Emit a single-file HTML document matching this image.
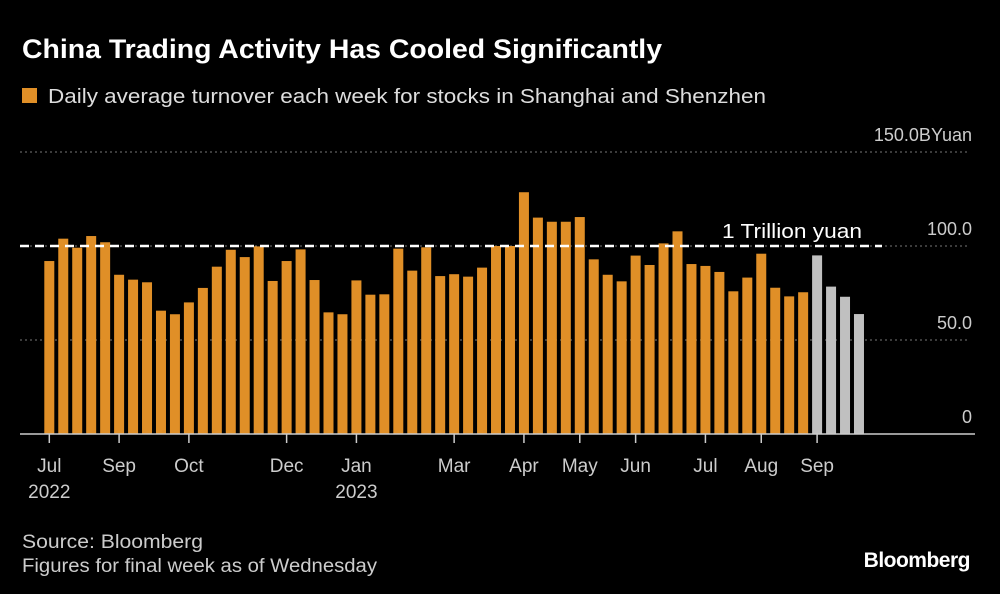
<!DOCTYPE html>
<html><head><meta charset="utf-8"><style>
html,body{margin:0;padding:0;background:#000;}
svg{display:block;font-family:"Liberation Sans",sans-serif;}
</style></head><body>
<svg id="chart" width="1000" height="594" viewBox="0 0 1000 594">
<rect x="0" y="0" width="1000" height="594" fill="#000"/>
<text x="22" y="58" fill="#fff" font-size="27" font-weight="bold" textLength="640" lengthAdjust="spacingAndGlyphs">China Trading Activity Has Cooled Significantly</text>
<rect x="22" y="88" width="15" height="15" fill="#e08f27"/>
<text x="48" y="103" fill="#ddd" font-size="20" textLength="718" lengthAdjust="spacingAndGlyphs">Daily average turnover each week for stocks in Shanghai and Shenzhen</text>
<g id="grid"></g>
<g id="bars"></g>
<g id="xaxis"></g>
<text x="22" y="548" fill="#ccc" font-size="19" textLength="181" lengthAdjust="spacingAndGlyphs">Source: Bloomberg</text>
<text x="22" y="572" fill="#ccc" font-size="19" textLength="355" lengthAdjust="spacingAndGlyphs">Figures for final week as of Wednesday</text>
<text x="970" y="567" fill="#fff" font-size="21" font-weight="bold" text-anchor="end" letter-spacing="-0.5">Bloomberg</text>
</svg>
<script>
const values = [92,103.9,99.1,105.3,102,84.7,82.1,80.7,65.6,63.7,70,77.7,89,98,94.1,99.8,81.4,92,98.2,81.9,64.7,63.7,81.7,74.1,74.3,98.6,86.9,99.3,84,85,83.7,88.5,100,100,128.6,115.1,112.9,112.9,115.4,92.9,84.7,81.2,94.9,89.9,101.4,107.8,90.4,89.4,86.2,75.9,83.2,95.9,77.8,73.2,75.4,95,78.4,73,63.8];
const partialStart = 55;
const yTicks = [0,50,100,150];
const yTickLabels = ["0","50.0","100.0","150.0BYuan"];
const xTickIdx = [0,5,10,17,22,29,34,38,42,47,51,55];
const xTickLabels = ["Jul","Sep","Oct","Dec","Jan","Mar","Apr","May","Jun","Jul","Aug","Sep"];
const xYearIdx = [0,22];
const xYearLabels = ["2022","2023"];
const refValue = 100;

const NS="http://www.w3.org/2000/svg";
const y0=434, pxPerUnit=1.88, x0=49.3, pitch=13.96, bw=10;
const yS=v=>y0-v*pxPerUnit;
const xS=i=>x0+i*pitch;
function mk(tag,attrs,parent){const e=document.createElementNS(NS,tag);for(const k in attrs)e.setAttribute(k,attrs[k]);parent.appendChild(e);return e;}
const grid=document.getElementById('grid'),bars=document.getElementById('bars'),xa=document.getElementById('xaxis');
yTicks.forEach((t,i)=>{
  if(t>0){const l=mk('line',{x1:20,x2:970,y1:yS(t),y2:yS(t),stroke:'#777','stroke-width':1,'stroke-dasharray':'2,3'},grid);
  
  }
  const tx=mk('text',{x:972,y:yS(t)-11,fill:'#ccc','font-size':18,'text-anchor':'end'},grid);
  tx.textContent=yTickLabels[i];
  
  
});
values.forEach((v,i)=>{
  const r=mk('rect',{x:xS(i)-bw/2,y:yS(v),width:bw,height:v*pxPerUnit,fill:i>=partialStart?'#c0c0c0':'#e08f27'},bars);
  
  
});
const ref=mk('line',{x1:20,x2:882,y1:yS(refValue),y2:yS(refValue),stroke:'#fff','stroke-width':2.5,'stroke-dasharray':'9,6'},bars);


const rt=mk('text',{x:722,y:yS(refValue)-8,fill:'#fff','font-size':20,textLength:140,lengthAdjust:'spacingAndGlyphs'},bars);
rt.textContent='1 Trillion yuan';


const ax=mk('line',{x1:20,x2:975,y1:y0,y2:y0,stroke:'#ccc','stroke-width':1.5},xa);


xTickIdx.forEach((idx,i)=>{
  const tk=mk('line',{x1:xS(idx),x2:xS(idx),y1:y0,y2:y0+9,stroke:'#ccc','stroke-width':1.5},xa);
  
  
  const tx=mk('text',{x:xS(idx),y:472,fill:'#ccc','font-size':19,'text-anchor':'middle'},xa);
  tx.textContent=xTickLabels[i];
  
  
});
xYearIdx.forEach((idx,i)=>{
  const tx=mk('text',{x:xS(idx),y:498,fill:'#ccc','font-size':19,'text-anchor':'middle'},xa);
  tx.textContent=xYearLabels[i];
  
  
});
</script>
</body></html>
